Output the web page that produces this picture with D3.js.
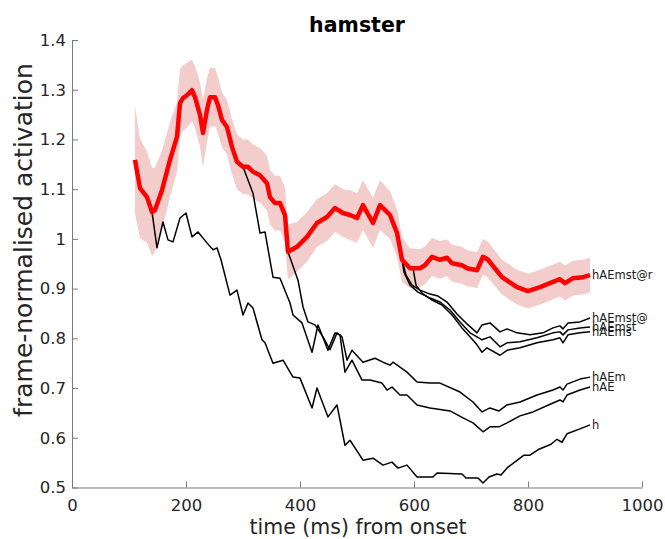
<!DOCTYPE html>
<html>
<head>
<meta charset="utf-8">
<script src="https://cdn.jsdelivr.net/npm/d3@7/dist/d3.min.js"></script>
<style>
  html, body { margin: 0; padding: 0; background: #fff; }
  svg { display: block; }
  text { font-family: "DejaVu Sans", sans-serif; }
</style>
</head>
<body>
<svg id="chart" width="665" height="539"></svg>
<script>
// ---------------- DATA ----------------
const xTicks = [0, 200, 400, 600, 800, 1000];
const yTicks = [0.5, 0.6, 0.7, 0.8, 0.9, 1, 1.1, 1.2, 1.3, 1.4];

// red mean series (hAEmst@r) with error band half-width
const redT = [110.5,119.3,131.6,140.4,145.6,157.9,171.9,184.2,189.5,194.7,201.8,210.5,215.8,224.6,229.8,236.8,242.1,250.9,256.1,263.2,271.9,280.7,289.5,300.0,308.8,317.5,329.8,342.1,347.4,356.1,364.9,373.7,378.9,394.7,412.3,429.8,447.4,461.4,475.4,487.7,500.0,510.5,528.1,540.4,557.9,570.2,579.0,593.0,610.5,619.3,631.6,645.6,657.9,666.7,684.2,693.0,710.5,721.1,729.8,754.4,780.7,800.0,821.1,838.6,856.1,864.9,878.9,896.5,908.8];
const redV = [1.159,1.102,1.084,1.054,1.058,1.098,1.159,1.205,1.273,1.283,1.289,1.299,1.285,1.249,1.213,1.259,1.285,1.285,1.269,1.239,1.225,1.185,1.155,1.145,1.145,1.135,1.128,1.112,1.084,1.072,1.072,1.048,0.974,0.984,1.004,1.032,1.044,1.062,1.052,1.048,1.042,1.068,1.032,1.068,1.048,1.012,0.958,0.941,0.941,0.947,0.964,0.958,0.962,0.951,0.947,0.941,0.937,0.964,0.958,0.923,0.903,0.895,0.903,0.911,0.919,0.911,0.921,0.923,0.927];
const redErr = [0.108,0.100,0.092,0.088,0.085,0.080,0.075,0.070,0.068,0.066,0.065,0.062,0.062,0.064,0.068,0.064,0.060,0.058,0.056,0.055,0.055,0.055,0.055,0.055,0.055,0.055,0.055,0.055,0.055,0.055,0.055,0.055,0.055,0.050,0.050,0.048,0.048,0.048,0.048,0.050,0.050,0.050,0.050,0.050,0.048,0.048,0.045,0.040,0.038,0.038,0.038,0.038,0.037,0.037,0.037,0.036,0.036,0.036,0.036,0.035,0.035,0.035,0.035,0.035,0.035,0.035,0.035,0.035,0.035];

const hT = [140.4,149.1,159.6,168.4,177.2,189.5,200.0,210.5,221.1,236.8,247.4,254.4,261.4,277.2,289.5,300.0,308.8,317.5,333.3,338.6,352.6,370.2,387.7,400.0,421.1,429.8,449.1,464.9,478.9,487.7,510.5,528.1,545.6,561.4,571.9,587.7,605.3,633.3,640.4,684.2,691.2,712.3,721.1,731.6,745.6,752.6,764.9,793.0,803.5,819.3,840.4,850.9,859.6,868.4,891.2,908.8];
const hV = [1.054,0.982,1.034,0.998,0.994,1.042,1.052,1.004,1.014,0.992,0.978,0.982,0.958,0.887,0.897,0.847,0.871,0.861,0.797,0.791,0.750,0.756,0.722,0.720,0.660,0.700,0.642,0.666,0.585,0.595,0.555,0.559,0.545,0.551,0.539,0.545,0.521,0.521,0.529,0.527,0.519,0.519,0.509,0.521,0.527,0.525,0.541,0.565,0.565,0.577,0.587,0.597,0.591,0.608,0.618,0.626];

const hAET = [300.0,317.5,329.8,338.6,352.6,364.9,382.5,387.7,403.5,421.1,431.6,449.1,461.4,470.2,478.9,491.2,508.8,522.8,543.9,552.6,561.4,575.4,587.7,605.3,628.1,663.2,686.0,703.5,721.1,733.3,749.1,763.2,786.0,808.8,843.9,856.1,861.4,868.4,891.2,908.8];
const hAEV = [1.145,1.092,1.012,1.014,0.923,0.921,0.871,0.847,0.831,0.772,0.827,0.776,0.811,0.807,0.732,0.756,0.716,0.716,0.710,0.696,0.702,0.686,0.686,0.666,0.660,0.654,0.640,0.630,0.612,0.622,0.622,0.630,0.644,0.652,0.670,0.676,0.672,0.686,0.696,0.702];

const hAEmT = [378.9,396.5,405.3,414.0,426.3,440.4,452.6,464.9,473.7,482.5,491.2,510.5,531.6,545.6,557.9,563.2,587.7,605.3,628.1,645.6,680.7,703.5,719.3,733.3,749.1,763.2,786.0,815.8,843.9,856.1,861.4,868.4,891.2,908.8];
const hAEmV = [0.974,0.917,0.863,0.833,0.827,0.803,0.777,0.811,0.803,0.756,0.776,0.752,0.760,0.752,0.746,0.752,0.732,0.712,0.710,0.710,0.692,0.672,0.652,0.660,0.654,0.666,0.672,0.686,0.696,0.702,0.696,0.708,0.718,0.722];

const hAEmsT = [598.2,603.5,614.0,631.6,649.1,666.7,684.2,698.2,710.5,719.3,728.1,750.9,763.2,786.0,815.8,843.9,856.1,861.4,870.2,891.2,908.8];
const hAEmsV = [0.941,0.907,0.891,0.877,0.867,0.847,0.821,0.803,0.787,0.772,0.781,0.766,0.776,0.781,0.791,0.797,0.801,0.791,0.807,0.811,0.813];

const hAEmstT = [579.0,582.5,593.0,607.0,628.1,645.6,663.2,680.7,698.2,710.5,719.3,733.3,750.9,763.2,786.0,815.8,843.9,856.1,861.4,870.2,891.2,908.8];
const hAEmstV = [0.958,0.933,0.907,0.893,0.881,0.873,0.857,0.833,0.811,0.803,0.797,0.803,0.783,0.791,0.793,0.801,0.811,0.813,0.807,0.817,0.821,0.823];

const hAEmstAtT = [579.0,586.0,596.5,610.5,628.1,642.1,657.9,675.4,693.0,710.5,719.3,733.3,750.9,763.2,780.7,803.5,826.3,843.9,856.1,861.4,870.2,891.2,908.8];
const hAEmstAtV = [0.958,0.927,0.907,0.897,0.889,0.885,0.873,0.849,0.829,0.811,0.827,0.831,0.813,0.819,0.811,0.807,0.811,0.821,0.825,0.819,0.831,0.833,0.841];

const blackSeries = [
  { name: "h",        t: hT,        v: hV },
  { name: "hAE",      t: hAET,      v: hAEV },
  { name: "hAEm",     t: hAEmT,     v: hAEmV },
  { name: "hAEms",    t: hAEmsT,    v: hAEmsV },
  { name: "hAEmst",   t: hAEmstT,   v: hAEmstV },
  { name: "hAEmst@",  t: hAEmstAtT, v: hAEmstAtV }
];
const redName = "hAEmst@r";

// ---------------- CHART ----------------
const svg = d3.select("#chart");
const x = d3.scaleLinear().domain([0, 1000]).range([72, 642]);
const y = d3.scaleLinear().domain([0.5, 1.4]).range([487.5, 40]);

const redData = redT.map((t, i) => ({ t, v: redV[i], e: redErr[i] }));

// error band
svg.append("path")
  .datum(redData)
  .attr("fill", "rgb(243,204,204)")
  .attr("stroke", "none")
  .attr("d", d3.area().x(d => x(d.t)).y0(d => y(d.v - d.e)).y1(d => y(d.v + d.e)));

// black lines
const line = d3.line().x(d => x(d.t)).y(d => y(d.v));
blackSeries.forEach(s => {
  const data = s.t.map((t, i) => ({ t, v: s.v[i] }));
  svg.append("path")
    .datum(data)
    .attr("fill", "none")
    .attr("stroke", "#000")
    .attr("stroke-width", 1.5)
    .attr("stroke-linejoin", "round")
    .attr("d", line);
});

// red line
svg.append("path")
  .datum(redData)
  .attr("fill", "none")
  .attr("stroke", "#ff0000")
  .attr("stroke-width", 4.5)
  .attr("stroke-linejoin", "round")
  .attr("d", line);

// end labels
const labelG = svg.append("g").attr("font-size", "11.5px").attr("fill", "#1a1a1a");
blackSeries.concat([{ name: redName, t: redT, v: redV }]).forEach(s => {
  const n = s.t.length - 1;
  labelG.append("text")
    .attr("x", x(s.t[n]) + 2)
    .attr("y", y(s.v[n]))
    .attr("dy", "0.35em")
    .text(s.name);
});

// axes
const xAxis = d3.axisBottom(x).tickValues(xTicks).tickSizeInner(-6).tickSizeOuter(0).tickPadding(11.5)
  .tickFormat(d3.format("d"));
const yAxis = d3.axisLeft(y).tickValues(yTicks).tickSizeInner(-6).tickSizeOuter(0).tickPadding(6)
  .tickFormat(d => d === 1 ? "1" : d3.format(".1f")(d));

const gx = svg.append("g").attr("transform", "translate(0,487.5)").call(xAxis);
const gy = svg.append("g").attr("transform", "translate(72,0)").call(yAxis);
[gx, gy].forEach(g => {
  g.selectAll("path, line").attr("stroke", "#7a7a7a").attr("stroke-width", 1);
  g.selectAll("text").attr("fill", "#262626").attr("font-size", "16.5px")
    .attr("font-family", "DejaVu Sans, sans-serif");
});

// title and labels
svg.append("text")
  .attr("x", 357).attr("y", 32)
  .attr("text-anchor", "middle")
  .attr("font-weight", "bold")
  .attr("font-size", "20.5px")
  .attr("fill", "#000")
  .text("hamster");

svg.append("text")
  .attr("x", 358).attr("y", 534)
  .attr("text-anchor", "middle")
  .attr("font-size", "20.5px")
  .attr("fill", "#262626")
  .text("time (ms) from onset");

svg.append("text")
  .attr("transform", "translate(32,240) rotate(-90)")
  .attr("text-anchor", "middle")
  .attr("font-size", "25px")
  .attr("fill", "#262626")
  .text("frame-normalised activation");
</script>
</body>
</html>
